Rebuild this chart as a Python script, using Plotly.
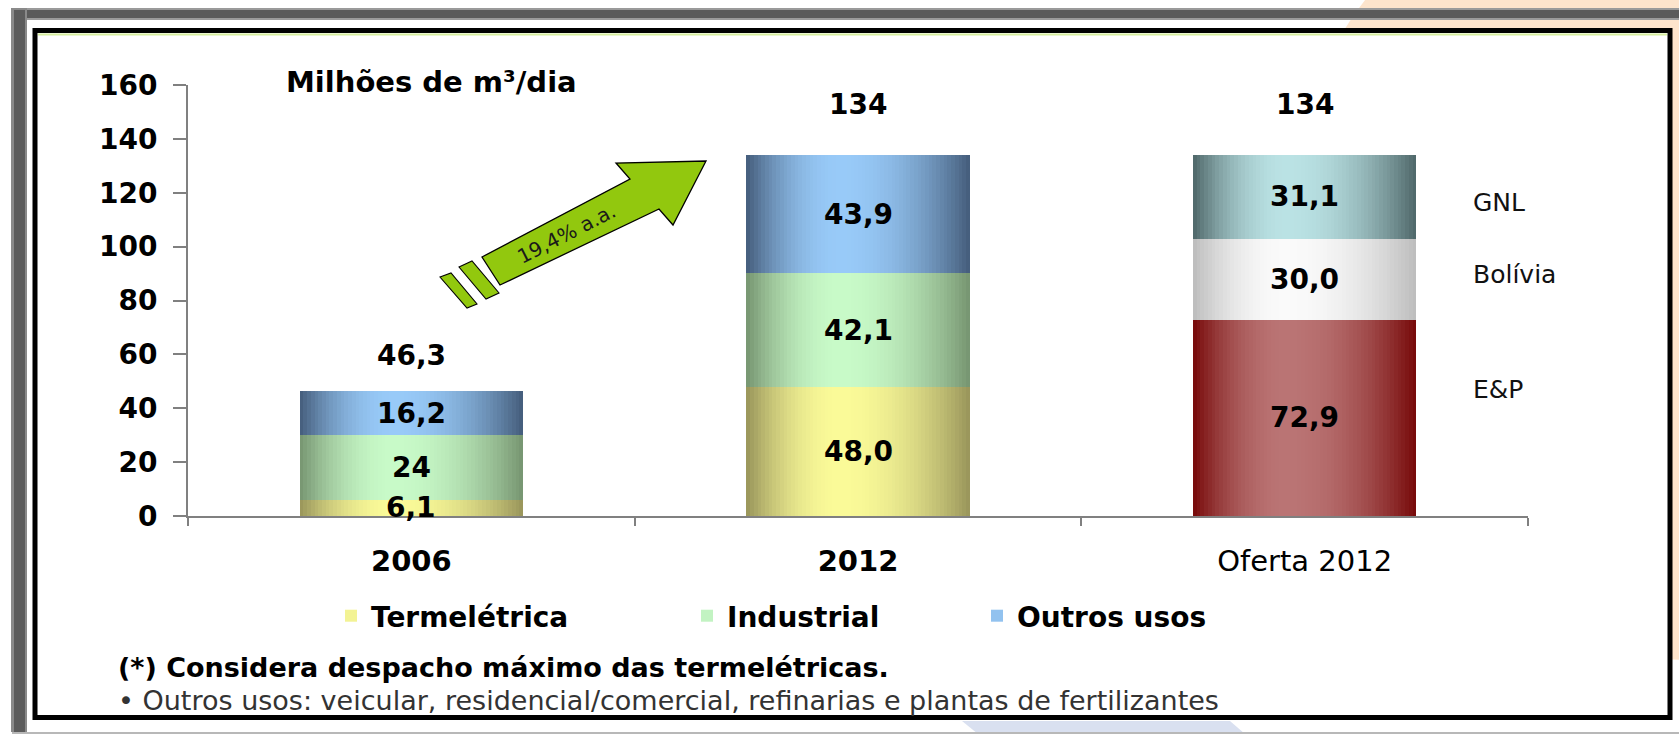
import plotly.graph_objects as go

# ---------------- data ----------------
categories = ["2006", "2012", "Oferta 2012"]
category_ticktext = ["<b>2006</b>", "<b>2012</b>", "Oferta 2012"]

demand_cats = ["2006", "2012"]
termeletrica = [6.1, 48.0]
industrial = [24.0, 42.1]
outros_usos = [16.2, 43.9]
termeletrica_labels = ["6,1", "48,0"]
industrial_labels = ["24", "42,1"]
outros_labels = ["16,2", "43,9"]

supply_cats = ["Oferta 2012"]
ep = [72.9]
bolivia = [30.0]
gnl = [31.1]
ep_labels = ["72,9"]
bolivia_labels = ["30,0"]
gnl_labels = ["31,1"]

total_labels = ["46,3", "134", "134"]
total_label_y = [59.4, 152.6, 152.6]

supply_names = ["E&P", "Bolívia", "GNL"]
supply_name_y = [46.8, 89.5, 116.2]

y_ticks = [0, 20, 40, 60, 80, 100, 120, 140, 160]

# ---------------- geometry helpers ----------------
W, H = 1679, 734
PL, PT, PW, PH = 188, 85, 1340, 431


def pp(x, y):
    """pixel -> paper coordinates"""
    return (x - PL) / PW, (PT + PH - y) / PH


def path_from(points):
    s = ""
    for i, (x, y) in enumerate(points):
        X, Y = pp(x, y)
        s += ("M" if i == 0 else "L") + f"{X:.5f},{Y:.5f} "
    return s + "Z"


def shade(edge, center, t, peak=0.42):
    d = abs(t - peak) / (peak if t < peak else 1 - peak)
    f = max(0.0, 1 - d ** 2.0)
    c = [round(e + (m - e) * f) for e, m in zip(edge, center)]
    return f"rgb({c[0]},{c[1]},{c[2]})"


def add(a, b):
    return [x + y for x, y in zip(a, b)]


def cidx(cat):
    return categories.index(cat)


FONT = "DejaVu Sans"
N = 60
BARW = 0.5

series = [
    dict(name="Termelétrica", x=demand_cats, y=termeletrica, base=[0, 0],
         labels=termeletrica_labels, edge=(152, 148, 90), center=(250, 250, 152), legend="legend"),
    dict(name="Industrial", x=demand_cats, y=industrial, base=termeletrica,
         labels=industrial_labels, edge=(118, 148, 112), center=(200, 250, 200), legend="legend2"),
    dict(name="Outros usos", x=demand_cats, y=outros_usos, base=add(termeletrica, industrial),
         labels=outros_labels, edge=(68, 92, 122), center=(152, 202, 248), legend="legend3"),
    dict(name="E&P", x=supply_cats, y=ep, base=[0],
         labels=ep_labels, edge=(118, 8, 8), center=(186, 116, 116), legend=None),
    dict(name="Bolívia", x=supply_cats, y=bolivia, base=ep,
         labels=bolivia_labels, edge=(188, 188, 188), center=(250, 250, 250), legend=None),
    dict(name="GNL", x=supply_cats, y=gnl, base=add(ep, bolivia),
         labels=gnl_labels, edge=(78, 102, 104), center=(186, 226, 228), legend=None),
]

fig = go.Figure()
sw = BARW / N
for s in series:
    for i in range(N):
        t = (i + 0.5) / N
        show = s["legend"] is not None and i == int(N * 0.3)
        kw = dict(legend=s["legend"]) if s["legend"] else {}
        fig.add_trace(go.Bar(
            x=s["x"], y=s["y"], base=s["base"],
            width=sw * (1.6 if i < N - 1 else 1.0),
            offset=-BARW / 2 + i * sw,
            marker=dict(color=shade(s["edge"], s["center"], t), line=dict(width=0)),
            name=s["name"], showlegend=show, hoverinfo="skip", **kw))

annotations = []
# segment value labels (centered in each segment)
for s in series:
    for x, v, b, lab in zip(s["x"], s["y"], s["base"], s["labels"]):
        annotations.append(dict(x=cidx(x), y=b + v / 2, xref="x", yref="y", text=f"<b>{lab}</b>",
                                xanchor="center", yanchor="middle", showarrow=False,
                                font=dict(family=FONT, size=28, color="black")))
# totals
for x, yv, lab in zip(categories, total_label_y, total_labels):
    annotations.append(dict(x=cidx(x), y=yv, xref="x", yref="y", text=f"<b>{lab}</b>",
                            xanchor="center", yanchor="middle", showarrow=False,
                            font=dict(family=FONT, size=28, color="black")))
# supply source names
for nm, yv in zip(supply_names, supply_name_y):
    annotations.append(dict(x=pp(1471, 0)[0], y=yv, xref="paper", yref="y", text=nm,
                            xanchor="left", yanchor="middle", showarrow=False,
                            font=dict(family=FONT, size=25, color="#111")))
# unit
ux, uy = pp(284, 82)
annotations.append(dict(x=ux, y=uy, xref="paper", yref="paper", text="<b>Milhões de m³/dia</b>",
                        xanchor="left", yanchor="middle", showarrow=False,
                        font=dict(family=FONT, size=29, color="black")))
# arrow text
ax_, ay_ = pp(566, 234)
annotations.append(dict(x=ax_, y=ay_, xref="paper", yref="paper", text="19,4% a.a.",
                        xanchor="center", yanchor="middle",
                        textangle=-27, showarrow=False,
                        font=dict(family=FONT, size=20, color="#1a1a1a")))
# footnotes
fx, fy = pp(116, 667)
annotations.append(dict(x=fx, y=fy, xref="paper", yref="paper",
                        text="<b>(*) Considera despacho máximo das termelétricas.</b>",
                        xanchor="left", yanchor="middle", showarrow=False,
                        font=dict(family=FONT, size=27, color="black")))
fx, fy = pp(116, 700)
annotations.append(dict(x=fx, y=fy, xref="paper", yref="paper",
                        text="• Outros usos: veicular, residencial/comercial, refinarias e plantas de fertilizantes",
                        xanchor="left", yanchor="middle", showarrow=False,
                        font=dict(family=FONT, size=27, color="#333")))

shapes = []
# background peach circle
x0, y0 = pp(1280, -160)
x1, y1 = pp(2100, 660)
shapes.append(dict(type="circle", xref="paper", yref="paper", x0=x0, y0=y0, x1=x1, y1=y1,
                   fillcolor="#fde4cc", line=dict(width=0), layer="below"))
# bluish bottom shape
shapes.append(dict(type="path", xref="paper", yref="paper",
                   path=path_from([(962, 721), (1230, 721), (1245, 734), (978, 734)]),
                   fillcolor="#d9e0f0", line=dict(width=0), layer="below"))
# bottom thin line
shapes.append(dict(type="line", xref="paper", yref="paper", x0=pp(12, 0)[0], x1=pp(1679, 0)[0],
                   y0=pp(0, 733)[1], y1=pp(0, 733)[1], line=dict(color="#b8b8b8", width=2), layer="below"))
# gray shadow bars
for (xa, ya, xb, yb, c) in [(12, 8, 1679, 20, "#9a9a9a"), (13, 10, 1679, 18, "#5a5a5a"),
                            (11, 8, 27, 732, "#8a8a8a"), (14, 10, 25, 732, "#5c5c5c")]:
    X0, Y0 = pp(xa, ya)
    X1, Y1 = pp(xb, yb)
    shapes.append(dict(type="rect", xref="paper", yref="paper", x0=X0, y0=Y0, x1=X1, y1=Y1,
                       fillcolor=c, line=dict(width=0), layer="below"))
# white frame with black border
X0, Y0 = pp(35, 30.5)
X1, Y1 = pp(1670, 717.5)
shapes.append(dict(type="rect", xref="paper", yref="paper", x0=X0, y0=Y0, x1=X1, y1=Y1,
                   fillcolor="white", line=dict(color="black", width=5), layer="below"))
shapes.append(dict(type="line", xref="paper", yref="paper", x0=pp(38, 0)[0], x1=pp(1667, 0)[0],
                   y0=pp(0, 34.5)[1], y1=pp(0, 34.5)[1], line=dict(color="#d6ee9e", width=2), layer="below"))
# green growth arrow
GREEN = "#92c80e"
shapes.append(dict(type="path", xref="paper", yref="paper",
                   path=path_from([(482, 257), (630, 179), (616, 163), (706, 161), (673, 225),
                                   (659, 209), (500, 285)]),
                   fillcolor=GREEN, line=dict(color="black", width=1.3), layer="above"))
shapes.append(dict(type="path", xref="paper", yref="paper",
                   path=path_from([(459, 267), (472, 261), (499, 293), (486, 299)]),
                   fillcolor=GREEN, line=dict(color="black", width=1.1), layer="above"))
shapes.append(dict(type="path", xref="paper", yref="paper",
                   path=path_from([(440, 277), (451, 273), (477, 304), (467, 308)]),
                   fillcolor=GREEN, line=dict(color="black", width=1.1), layer="above"))

legend_font = dict(family=FONT, size=28, color="black", weight="bold")


def leg(xpx):
    lx, ly = pp(xpx, 616)
    return dict(x=lx, y=ly, xref="paper", yref="paper", xanchor="left", yanchor="middle",
                orientation="h", bgcolor="rgba(0,0,0,0)", borderwidth=0, font=legend_font)


fig.update_layout(
    width=W, height=H,
    margin=dict(l=PL, r=W - PL - PW, t=PT, b=H - PT - PH, pad=0),
    paper_bgcolor="white", plot_bgcolor="rgba(0,0,0,0)",
    barmode="overlay", bargap=0,
    showlegend=True,
    legend=leg(331), legend2=leg(687), legend3=leg(977),
    annotations=annotations, shapes=shapes,
    xaxis=dict(type="category", categoryorder="array", categoryarray=categories,
               tickmode="array", tickvals=categories, ticktext=category_ticktext,
               range=[-0.5, 2.5], tickson="boundaries", ticks="outside", ticklen=8, tickwidth=2,
               tickcolor="#808080", showline=True, linecolor="#808080", linewidth=2,
               showgrid=False, zeroline=False, ticklabelstandoff=18,
               tickfont=dict(family=FONT, size=29, color="black")),
    yaxis=dict(range=[0, 160], tickmode="array", tickvals=y_ticks, ticks="outside",
               ticklen=13, tickwidth=2, tickcolor="#808080", showline=True, linecolor="#808080",
               linewidth=2, showgrid=False, zeroline=False, ticklabelstandoff=10,
               tickfont=dict(family=FONT, size=28, color="black", weight="bold")),
)

fig.write_html("out.html", config={"displayModeBar": False},
               post_script="document.body.style.margin='0';document.body.style.overflow='hidden';")
